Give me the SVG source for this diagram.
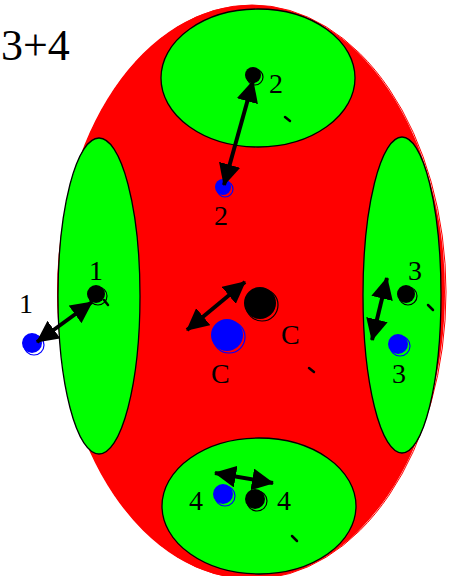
<svg xmlns="http://www.w3.org/2000/svg" width="455" height="576" viewBox="0 0 455 576">
<style>
.lbl{font-family:"Liberation Serif","Times New Roman",serif;font-size:28px;fill:#000}
.title{font-family:"Liberation Serif","Times New Roman",serif;font-size:44px;fill:#000}
.green{fill:#00ff00;stroke:#000;stroke-width:1.3}
.red{fill:#ff0000;stroke:none}
.bdot{fill:#000;stroke:none}
.bdot2{fill:none;stroke:#000;stroke-width:1.2}
.udot{fill:#0000ff;stroke:none}
.udot2{fill:none;stroke:#0000ff;stroke-width:1.2}
.arr{stroke:#000;stroke-width:4;fill:none;marker-start:url(#ah);marker-end:url(#ah)}
.tick{stroke:#000;stroke-width:2.5;stroke-linecap:round}
</style>
<defs>
<marker id="ah" viewBox="0 0 22 22" refX="21" refY="11" markerWidth="22" markerHeight="22" markerUnits="userSpaceOnUse" orient="auto-start-reverse">
<path d="M0,0 L22,11 L0,22 z" fill="#000"/>
</marker>
</defs>
<rect width="455" height="576" fill="#fff"/>
<text class="title" x="1" y="60">3+4</text>
<g id="body">
<ellipse class="red" cx="251" cy="292" rx="194" ry="287"/>
<ellipse cx="252" cy="292" rx="194" ry="287" fill="none" stroke="#ff0000" stroke-width="1"/>
</g>
<g id="region-top"><ellipse class="green" cx="258" cy="78" rx="97" ry="69"/></g>
<g id="region-left"><ellipse class="green" cx="99" cy="296" rx="41" ry="158"/></g>
<g id="region-right"><ellipse class="green" cx="402" cy="295" rx="39" ry="158"/></g>
<g id="region-bottom"><ellipse class="green" cx="259" cy="506" rx="97" ry="68"/></g>
<g id="point-2">
<circle class="bdot" cx="253" cy="75" r="8"/><circle class="bdot2" cx="255" cy="77" r="8"/>
<circle class="udot" cx="223" cy="187" r="8"/><circle class="udot2" cx="225" cy="189" r="8"/>
<text class="lbl" x="269" y="93">2</text>
<text class="lbl" x="214" y="225">2</text>
<line class="tick" x1="285" y1="117" x2="290" y2="121"/>
</g>
<g id="point-1">
<circle class="bdot" cx="96" cy="294" r="9"/><circle class="bdot2" cx="98" cy="296" r="9"/>
<line class="tick" x1="104" y1="300" x2="108" y2="305"/>
<circle class="udot" cx="32" cy="343" r="10"/><circle class="udot2" cx="34" cy="345" r="10"/>
<text class="lbl" x="89" y="280">1</text>
<text class="lbl" x="19" y="313">1</text>
</g>
<g id="point-C">
<circle class="bdot" cx="260" cy="303" r="16"/><circle class="bdot2" cx="262" cy="305" r="16"/>
<circle class="udot" cx="227" cy="335" r="16"/><circle class="udot2" cx="229" cy="337" r="16"/>
<text class="lbl" x="281" y="344">C</text>
<text class="lbl" x="211" y="383">C</text>
<line class="tick" x1="309" y1="368" x2="314" y2="372"/>
</g>
<g id="point-3">
<circle class="bdot" cx="406" cy="294" r="9"/><circle class="bdot2" cx="408" cy="296" r="9"/>
<line class="tick" x1="428" y1="305" x2="433" y2="310"/>
<circle class="udot" cx="398" cy="344" r="10"/><circle class="udot2" cx="400" cy="346" r="10"/>
<text class="lbl" x="408" y="280">3</text>
<text class="lbl" x="392" y="383">3</text>
</g>
<g id="point-4">
<circle class="udot" cx="223" cy="494" r="10"/><circle class="udot2" cx="225" cy="496" r="10"/>
<circle class="bdot" cx="255" cy="499" r="10"/><circle class="bdot2" cx="257" cy="501" r="10"/>
<text class="lbl" x="189" y="510">4</text>
<text class="lbl" x="277" y="510">4</text>
<line class="tick" x1="292" y1="536" x2="297" y2="541"/>
</g>
<g id="connectors">
<line class="arr" x1="253" y1="81" x2="224" y2="185"/>
<line class="arr" x1="92" y1="302" x2="37" y2="342"/>
<line class="arr" x1="245" y1="282" x2="187" y2="330"/>
<line class="arr" x1="387" y1="278" x2="372" y2="340"/>
<line class="arr" x1="215" y1="473" x2="273" y2="483"/>
</g>
</svg>
